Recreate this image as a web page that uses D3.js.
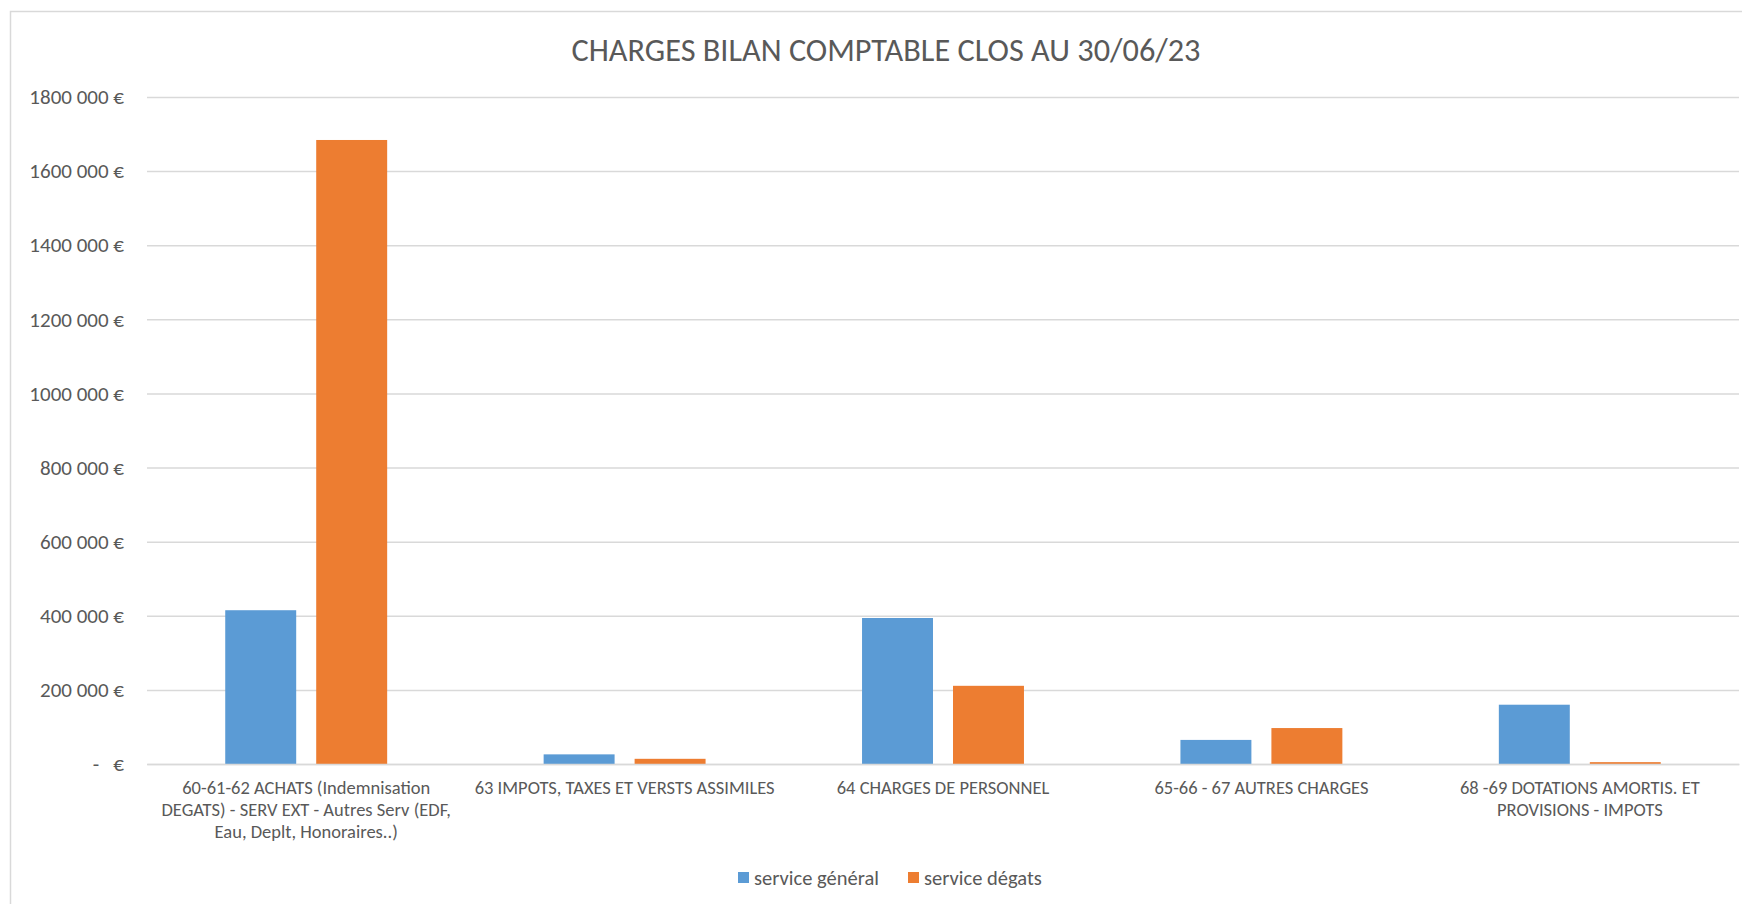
<!DOCTYPE html>
<html>
<head>
<meta charset="utf-8">
<script src="https://cdn.jsdelivr.net/npm/d3@7"></script>
<style>
  body { margin: 0; background: #fff; }
  svg { display: block; font-family: Carlito, Lato, "Open Sans", sans-serif; }
</style>
</head>
<body>
<div id="container"></div>
<script>
/* CONSTANTS AND GLOBALS */
const width = 1742,
  height = 904,
  margin = { top: 97, bottom: 140, left: 147, right: 3 };

/* DATA */
const categories = [
  "60-61-62 ACHATS (Indemnisation\nDEGATS) - SERV EXT - Autres Serv (EDF,\nEau, Deplt, Honoraires..)",
  "63 IMPOTS, TAXES ET VERSTS ASSIMILES",
  "64 CHARGES DE PERSONNEL",
  "65-66 - 67 AUTRES CHARGES",
  "68 -69 DOTATIONS AMORTIS. ET\nPROVISIONS - IMPOTS"
];
const seriesNames = ["service général", "service dégats"];
const serviceGeneral = [415000, 26000, 394000, 65000, 160000];
const serviceDegats = [1684000, 14000, 211000, 97000, 5000];
const yTicks = [0, 200000, 400000, 600000, 800000, 1000000, 1200000, 1400000, 1600000, 1800000];
const colors = ["#5B9BD5", "#ED7D31"];

const data = categories.map((c, i) => ({
  category: c,
  values: [serviceGeneral[i], serviceDegats[i]]
}));

// SCALES
const xScale = d3.scaleBand()
  .domain(categories)
  .range([margin.left, width - margin.right])
  .padding(0);

const x1 = d3.scaleBand()
  .domain(seriesNames)
  .range([0, xScale.bandwidth()])
  .paddingInner(0.22)
  .paddingOuter(0.86);

const yScale = d3.scaleLinear()
  .domain([0, 1800000])
  .range([height - margin.bottom, margin.top]);

const color = d3.scaleOrdinal().domain(seriesNames).range(colors);

// CREATE SVG ELEMENT
const svg = d3.select("#container")
  .append("svg")
  .attr("width", width)
  .attr("height", height);

// chart border
svg.append("rect")
  .attr("x", 10.5)
  .attr("y", 11.5)
  .attr("width", width + 20)
  .attr("height", height + 20)
  .attr("fill", "none")
  .attr("stroke", "#d9d9d9")
  .attr("stroke-width", 1.5);

// title
svg.append("text")
  .attr("x", 886)
  .attr("y", 61)
  .attr("text-anchor", "middle")
  .attr("fill", "#595959")
  .style("font-size", "32.3px")
  .text("CHARGES BILAN COMPTABLE CLOS AU 30/06/23");

// Y AXIS (gridlines + labels)
const fmt = v => v === 0 ? "-   €" : d3.format(",")(v).replace(/,(?=\d{3}$)/, " ").replace(/,/g, "") + " €";

const yAxis = d3.axisLeft(yScale)
  .tickValues(yTicks)
  .tickSize(-(width - margin.left - margin.right))
  .tickPadding(23)
  .tickFormat(fmt);

const yAxisGroup = svg.append("g")
  .attr("class", "yAxis")
  .attr("transform", `translate(${margin.left},0)`)
  .call(yAxis);

yAxisGroup.select(".domain").remove();
yAxisGroup.selectAll(".tick line")
  .attr("stroke", "#d9d9d9")
  .attr("stroke-width", 1.5);
yAxisGroup.selectAll(".tick text")
  .attr("fill", "#595959")
  .style("font-size", "21px")
  .style("white-space", "pre")
  .style("font-family", "Carlito, Lato, sans-serif");

// BARS
const groups = svg.append("g")
  .selectAll("g")
  .data(data)
  .join("g")
  .attr("transform", d => `translate(${xScale(d.category)},0)`);

groups.selectAll("rect")
  .data(d => d.values.map((v, j) => ({ name: seriesNames[j], value: v })))
  .join("rect")
  .attr("x", d => x1(d.name))
  .attr("width", x1.bandwidth())
  .attr("y", d => yScale(d.value))
  .attr("height", d => yScale(0) - yScale(d.value))
  .attr("fill", d => color(d.name));

// X AXIS
const xAxis = d3.axisBottom(xScale).tickSize(0).tickPadding(0);

const xAxisGroup = svg.append("g")
  .attr("class", "xAxis")
  .attr("transform", `translate(0,${height - margin.bottom})`)
  .call(xAxis);

xAxisGroup.select(".domain")
  .attr("stroke", "#d9d9d9")
  .attr("stroke-width", 1.5);

xAxisGroup.selectAll(".tick text")
  .attr("fill", "#595959")
  .attr("dy", null)
  .attr("y", null)
  .style("font-size", "18.5px")
  .style("font-family", "Carlito, Lato, sans-serif")
  .each(function(d) {
    const t = d3.select(this);
    const lines = d.split("\n");
    t.text(null);
    lines.forEach((line, i) => {
      t.append("tspan")
        .attr("x", 0)
        .attr("y", 30 + i * 22)
        .text(line);
    });
  });

// LEGEND
const legendX = [738, 908];
const legend = svg.append("g")
  .selectAll("g")
  .data(seriesNames)
  .join("g")
  .attr("transform", (d, i) => `translate(${legendX[i]},878)`);

legend.append("rect")
  .attr("x", 0)
  .attr("y", -6)
  .attr("width", 11)
  .attr("height", 11)
  .attr("fill", d => color(d));

legend.append("text")
  .attr("x", 16)
  .attr("y", 7)
  .attr("fill", "#595959")
  .style("font-size", "20.5px")
  .text(d => d);
</script>
</body>
</html>
